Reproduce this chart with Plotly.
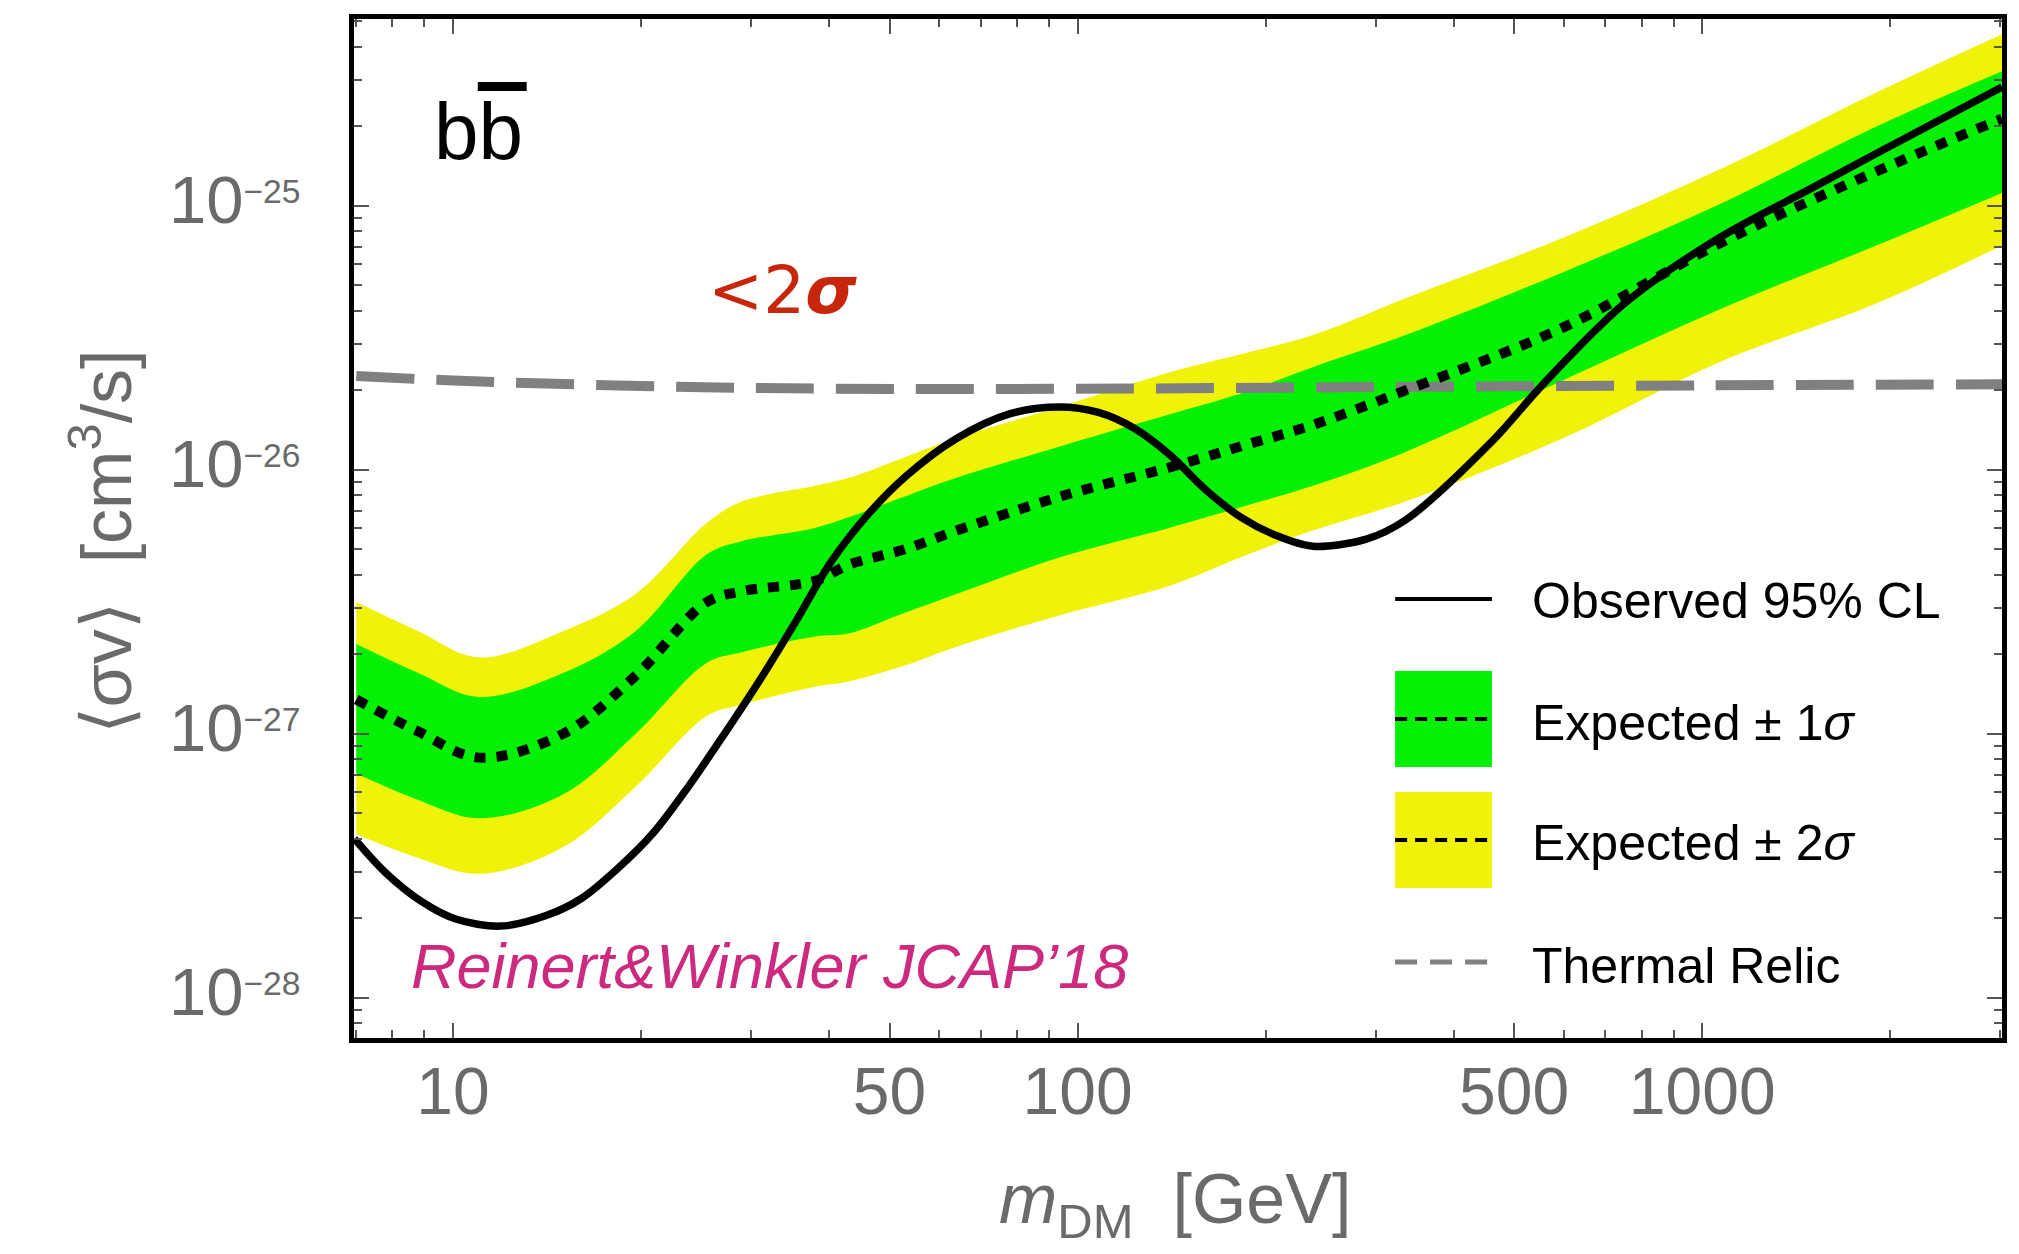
import plotly.graph_objects as go

# ---- data: annihilation cross-section limits, b b-bar channel ----
# mass grid for the expected band [GeV]
mass_band = [7, 8.8, 11, 15, 19.6, 25.5, 29, 38, 43, 53, 64, 94, 140, 183, 238, 335, 600, 1070, 1900, 3020]
exp_2sig_hi = [3.16e-27, 2.45e-27, 1.95e-27, 2.45e-27, 3.39e-27, 6.31e-27, 7.59e-27, 8.71e-27, 9.33e-27, 1.12e-26,
               1.32e-26, 1.74e-26, 2.34e-26, 2.75e-26, 3.24e-26, 4.47e-26, 7.59e-26, 1.38e-25, 2.69e-25, 4.47e-25]
exp_1sig_hi = [2.19e-27, 1.70e-27, 1.38e-27, 1.70e-27, 2.45e-27, 4.79e-27, 5.37e-27, 6.03e-27, 6.61e-27, 7.94e-27,
               9.33e-27, 1.23e-26, 1.62e-26, 1.95e-26, 2.45e-26, 3.24e-26, 5.62e-26, 1.02e-25, 2.00e-25, 3.24e-25]
exp_median = [1.35e-27, 1.02e-27, 8.13e-28, 1.00e-27, 1.66e-27, 3.16e-27, 3.47e-27, 3.80e-27, 4.37e-27, 5.01e-27,
              5.89e-27, 7.94e-27, 1.02e-26, 1.23e-26, 1.48e-26, 2.00e-26, 3.47e-26, 7.24e-26, 1.35e-25, 2.14e-25]
exp_1sig_lo = [7.08e-28, 5.62e-28, 4.79e-28, 5.89e-28, 1.00e-27, 1.86e-27, 2.04e-27, 2.34e-27, 2.40e-27, 2.88e-27,
               3.39e-27, 4.68e-27, 6.03e-27, 7.24e-27, 8.71e-27, 1.17e-26, 2.19e-26, 4.07e-26, 7.08e-26, 1.12e-25]
exp_2sig_lo = [4.17e-28, 3.39e-28, 2.95e-28, 3.72e-28, 6.31e-28, 1.17e-27, 1.29e-27, 1.51e-27, 1.58e-27, 1.82e-27,
               2.14e-27, 2.82e-27, 3.63e-27, 4.68e-27, 5.89e-27, 7.59e-27, 1.32e-26, 2.57e-26, 4.27e-26, 7.08e-26]

# observed 95% CL upper limit
mass_obs = [6.95, 7.8, 8.9, 10.1, 11.9, 14.1, 16.1, 18.3, 20.9, 23.8, 27.2, 31.0, 35.3, 40.3, 46.0, 53.1,
            63.8, 77.8, 93.5, 108, 123, 140.5, 160, 183, 208, 238, 290, 335, 462, 555, 751, 1067, 1500, 1900, 3020]
obs_limit = [4.01e-28, 2.98e-28, 2.32e-28, 1.99e-28, 1.87e-28, 2.05e-28, 2.39e-28, 3.07e-28, 4.20e-28, 6.30e-28,
             1.00e-27, 1.60e-27, 2.64e-27, 4.48e-27, 6.71e-27, 9.46e-27,
             1.31e-26, 1.63e-26, 1.73e-26, 1.65e-26, 1.44e-26, 1.14e-26, 8.45e-27, 6.59e-27, 5.64e-27, 5.14e-27,
             5.47e-27, 6.46e-27, 1.29e-26, 2.10e-26, 4.27e-26, 7.59e-26, 1.17e-25, 1.58e-25, 2.82e-25]

# thermal relic cross-section
mass_relic = [7, 10, 20, 40, 100, 300, 1000, 3020]
relic_xs = [2.27e-26, 2.18e-26, 2.08e-26, 2.03e-26, 2.03e-26, 2.06e-26, 2.09e-26, 2.11e-26]

# axis ticks
x_tick_vals = [10, 50, 100, 500, 1000]
x_tick_text = ["10", "50", "100", "500", "1000"]
y_tick_exps = [-28, -27, -26, -25]

YELLOW = "#F0F20A"
GREEN = "#04F004"
GRAY_TXT = "#6a6a6a"
FONT = "Liberation Sans, Arial, sans-serif"

fig = go.Figure()


def band(lo, hi, color):
    fig.add_trace(go.Scatter(x=mass_band, y=hi, mode="lines", line=dict(width=0, shape="spline", smoothing=1.0),
                             hoverinfo="skip", showlegend=False))
    fig.add_trace(go.Scatter(x=mass_band, y=lo, mode="lines", line=dict(width=0, shape="spline", smoothing=1.0),
                             fill="tonexty", fillcolor=color, hoverinfo="skip", showlegend=False))


band(exp_2sig_lo, exp_2sig_hi, YELLOW)
band(exp_1sig_lo, exp_1sig_hi, GREEN)

fig.add_trace(go.Scatter(x=mass_relic, y=relic_xs, mode="lines", showlegend=False,
                         line=dict(color="#808080", width=10, dash="58px,22px", shape="spline")))
fig.add_trace(go.Scatter(x=mass_obs, y=obs_limit, mode="lines", showlegend=False,
                         line=dict(color="black", width=7.5, shape="spline", smoothing=0.9)))
fig.add_trace(go.Scatter(x=mass_band, y=exp_median, mode="lines", showlegend=False,
                         line=dict(color="black", width=10, dash="11px,11px", shape="spline", smoothing=1.0)))

x_minor = [k * 10 ** e for e in range(0, 4) for k in range(1, 10) if k * 10 ** e not in x_tick_vals]
y_minor = [k * 10.0 ** e for e in range(-29, -24) for k in range(2, 10)]

axis_common = dict(showline=True, linewidth=5, linecolor="black", mirror="allticks", showgrid=False,
                   zeroline=False, ticks="inside", ticklen=15, tickwidth=2, tickcolor="#555555")

fig.update_xaxes(type="log", range=[0.8415, 3.480], tickmode="array", tickvals=x_tick_vals, ticktext=x_tick_text,
                 tickfont=dict(family=FONT, size=66, color=GRAY_TXT), ticklabelstandoff=-8,
                 minor=dict(tickmode="array", tickvals=x_minor, ticks="inside", ticklen=8, tickwidth=1.5,
                            tickcolor="#555555"),
                 **axis_common)
fig.update_yaxes(type="log", range=[-28.152, -24.292], tickmode="array",
                 tickvals=[10.0 ** e for e in y_tick_exps],
                 ticktext=[f"<span style='font-size:67px'>10</span><sup>−{abs(e)}</sup>" for e in y_tick_exps],
                 tickfont=dict(family=FONT, size=48, color=GRAY_TXT), ticklabelstandoff=39,
                 minor=dict(tickmode="array", tickvals=y_minor, ticks="inside", ticklen=8, tickwidth=1.5,
                            tickcolor="#555555"),
                 **axis_common)

W, H = 2019, 1254
L, R, T, B = 354, 14, 19, 216
PW, PH = W - L - R, H - T - B


def px(xp):
    return (xp - L) / PW


def py(yp):
    return (H - B - yp) / PH


def label(text, x, y, size, color, family=FONT, xanchor="center", **kw):
    return dict(text=text, x=px(x), y=py(y), xref="paper", yref="paper", xanchor=xanchor, yanchor="middle",
                showarrow=False, font=dict(family=family, size=size, color=color), **kw)


ann = [
    # axis titles
    label("⟨σv⟩  [cm<sup>3</sup>/s]", 101, 542, 70, GRAY_TXT, textangle=-90),
    label("<i>m</i><sub>DM</sub>  [GeV]", 1176, 1204, 70, GRAY_TXT),
    # channel label
    label("bb", 432, 131, 80, "black", xanchor="left"),
    # significance note
    label("&lt;2<b><i>σ</i></b>", 783, 290, 66, "#C8260A", family="DejaVu Sans, sans-serif"),
    # reference
    label("<i>Reinert&amp;Winkler JCAP’18</i>", 409, 966, 63, "#CC2A7E", xanchor="left"),
]
# legend labels
leg_text = ["Observed 95% CL", "Expected ± 1<i>σ</i>", "Expected ± 2<i>σ</i>", "Thermal Relic"]
leg_y = [601, 723, 843, 966]
for t, yy in zip(leg_text, leg_y):
    ann.append(label(t, 1532, yy, 50, "black", xanchor="left"))

shapes = [
    # bar over the second b
    dict(type="rect", xref="paper", yref="paper", x0=px(478), x1=px(527), y0=py(91), y1=py(82),
         fillcolor="black", line=dict(width=0)),
    # legend swatches
    dict(type="line", xref="paper", yref="paper", x0=px(1397), x1=px(1494), y0=py(599), y1=py(599),
         line=dict(color="black", width=4)),
    dict(type="rect", xref="paper", yref="paper", x0=px(1397), x1=px(1494), y0=py(767), y1=py(671),
         fillcolor=GREEN, line=dict(width=0)),
    dict(type="line", xref="paper", yref="paper", x0=px(1397), x1=px(1494), y0=py(719), y1=py(719),
         line=dict(color="black", width=4, dash="12px,8px")),
    dict(type="rect", xref="paper", yref="paper", x0=px(1397), x1=px(1494), y0=py(888), y1=py(792),
         fillcolor=YELLOW, line=dict(width=0)),
    dict(type="line", xref="paper", yref="paper", x0=px(1397), x1=px(1494), y0=py(840), y1=py(840),
         line=dict(color="black", width=4, dash="12px,8px")),
    dict(type="line", xref="paper", yref="paper", x0=px(1397), x1=px(1490), y0=py(962), y1=py(962),
         line=dict(color="#808080", width=5, dash="22px,13px")),
]

fig.update_layout(width=W, height=H, margin=dict(l=L, r=R, t=T, b=B), paper_bgcolor="white",
                  plot_bgcolor="white", showlegend=False, annotations=ann, shapes=shapes)

fig.write_html("out.html")
